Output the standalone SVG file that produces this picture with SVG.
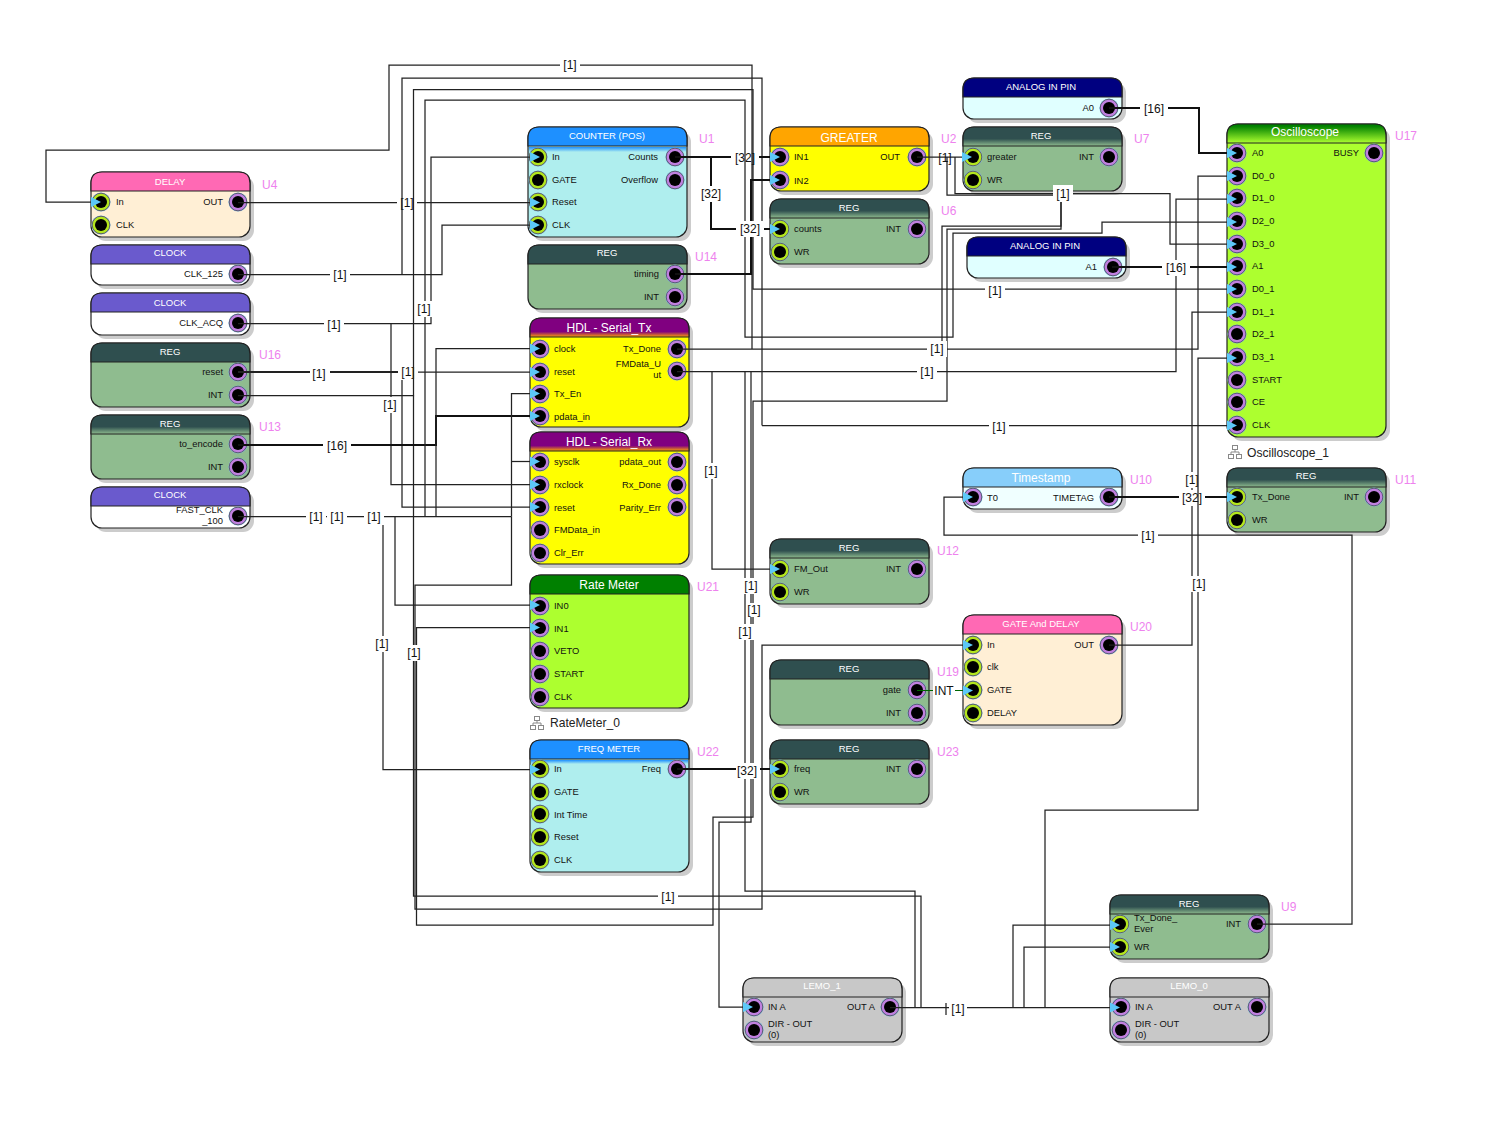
<svg xmlns="http://www.w3.org/2000/svg" width="1487" height="1122" viewBox="0 0 1487 1122">
<style>
text{font-family:"Liberation Sans",Arial,sans-serif}
.s{fill:#ccc;stroke:none}
.n,.hd{stroke:#222;stroke-width:1.2}
.p{font-size:9.4px;fill:#111}
.e{font-size:9.4px;fill:#111;text-anchor:end}
.h{font-size:9.5px;fill:#fff;text-anchor:middle}
.H{font-size:12px;fill:#fff;text-anchor:middle}
.u{font-size:12px;fill:#ee82ee}
.w{fill:none;stroke:#222;stroke-width:1.25}
.t{fill:none;stroke:#111;stroke-width:2}
.g{fill:none;stroke:#060;stroke-width:1.2}
.a{marker-end:url(#a)}
.l rect{fill:#fff}
.l text{font-size:12px;fill:#111;text-anchor:middle}
.c{font-size:12.1px;fill:#222}
.i{fill:#fff;stroke:#888;stroke-width:1}
</style>
<defs>
<linearGradient id="gr" x1="0" y1="0" x2="0" y2="1"><stop offset="0.62" stop-color="#2f4f4f"/><stop offset="1" stop-color="#8fbc8f"/></linearGradient>
<linearGradient id="gh" x1="0" y1="0" x2="0" y2="1"><stop offset="0.72" stop-color="#800080"/><stop offset="1" stop-color="#ffa500"/></linearGradient>
<linearGradient id="go" x1="0" y1="0" x2="0" y2="1"><stop offset="0.1" stop-color="#008000"/><stop offset="1" stop-color="#adff2f"/></linearGradient>
<linearGradient id="gc" x1="0" y1="0" x2="0" y2="1"><stop offset="0" stop-color="#1e90ff"/><stop offset="1" stop-color="#afeeee"/></linearGradient>
<path id="h" class="hd" d="M0 19V11Q0 0 11 0H148Q159 0 159 11V19Z"/>
<g id="pg"><circle r="9.6" fill="#7fb8e0"/><circle r="8.8" fill="#b4e61e" stroke="#556" stroke-width=".9"/><circle r="6" fill="#000"/></g>
<g id="pp"><circle r="9.6" fill="#7fb8e0"/><circle r="8.8" fill="#c080e0" stroke="#556" stroke-width=".9"/><circle r="6" fill="#000"/></g>
<marker id="a" markerUnits="userSpaceOnUse" markerWidth="12" markerHeight="12" refX="0" refY="6" orient="auto"><path d="M0 1L10 6L0 11Z" fill="#5cc8f8"/></marker>
<g id="net"><path d="M7 4V7M3 10V7H11V10" fill="none" stroke="#888"/><rect class="i" x="4.5" y="0.5" width="5" height="4"/><rect class="i" x="0.5" y="9.5" width="5" height="4"/><rect class="i" x="8.5" y="9.5" width="5" height="4"/></g>
</defs>
<rect width="1487" height="1122" fill="#fff"/>

<g id="U4"><rect class="s" x="95" y="176" width="159" height="65" rx="11"/><rect class="n" x="91" y="172" width="159" height="65" rx="11" fill="#ffefd5"/><use href="#h" x="91" y="172" fill="#ff69b4"/><text class="h" x="170" y="185">DELAY</text><use href="#pg" x="101" y="202"/><use href="#pg" x="101" y="225"/><use href="#pp" x="238" y="202"/><text class="p" x="116" y="205">In</text><text class="p" x="116" y="228">CLK</text><text class="e" x="223" y="205">OUT</text><text class="u" x="262" y="189">U4</text></g>
<g id="CLK_125"><rect class="s" x="95" y="249" width="159" height="40" rx="11"/><rect class="n" x="91" y="245" width="159" height="40" rx="11" fill="#fff"/><use href="#h" x="91" y="245" fill="#6a5acd"/><text class="h" x="170" y="256">CLOCK</text><use href="#pp" x="238" y="274"/><text class="e" x="223" y="277">CLK_125</text></g>
<g id="CLK_ACQ"><rect class="s" x="95" y="297" width="159" height="42" rx="11"/><rect class="n" x="91" y="293" width="159" height="42" rx="11" fill="#fff"/><use href="#h" x="91" y="293" fill="#6a5acd"/><text class="h" x="170" y="306">CLOCK</text><use href="#pp" x="238" y="323"/><text class="e" x="223" y="326">CLK_ACQ</text></g>
<g id="U16"><rect class="s" x="95" y="347" width="159" height="64" rx="11"/><rect class="n" x="91" y="343" width="159" height="64" rx="11" fill="#8fbc8f"/><use href="#h" x="91" y="343" fill="#2f4f4f"/><text class="h" x="170" y="355">REG</text><use href="#pp" x="238" y="372"/><use href="#pp" x="238" y="395"/><text class="e" x="223" y="375">reset</text><text class="e" x="223" y="398">INT</text><text class="u" x="259" y="359">U16</text></g>
<g id="U13"><rect class="s" x="95" y="419" width="159" height="64" rx="11"/><rect class="n" x="91" y="415" width="159" height="64" rx="11" fill="#8fbc8f"/><use href="#h" x="91" y="415" fill="url(#gr)"/><text class="h" x="170" y="427">REG</text><use href="#pp" x="238" y="444"/><use href="#pp" x="238" y="467"/><text class="e" x="223" y="447">to_encode</text><text class="e" x="223" y="470">INT</text><text class="u" x="259" y="431">U13</text></g>
<g id="FAST_CLK"><rect class="s" x="95" y="491" width="159" height="41" rx="11"/><rect class="n" x="91" y="487" width="159" height="41" rx="11" fill="#fff"/><use href="#h" x="91" y="487" fill="#6a5acd"/><text class="h" x="170" y="498">CLOCK</text><use href="#pp" x="238" y="516"/><text class="e" x="223" y="513">FAST_CLK</text><text class="e" x="223" y="524">_100</text></g>

<g id="U1"><rect class="s" x="532" y="131" width="159" height="110" rx="11"/><rect class="n" x="528" y="127" width="159" height="110" rx="11" fill="#afeeee"/><rect x="529" y="147" width="157" height="5" fill="url(#gc)"/><use href="#h" x="528" y="127" fill="#1e90ff"/><text class="h" x="607" y="139">COUNTER (POS)</text><use href="#pg" x="538" y="157"/><use href="#pg" x="538" y="180"/><use href="#pg" x="538" y="202"/><use href="#pg" x="538" y="225"/><use href="#pp" x="675" y="157"/><use href="#pp" x="675" y="180"/><text class="p" x="552" y="160">In</text><text class="p" x="552" y="183">GATE</text><text class="p" x="552" y="205">Reset</text><text class="p" x="552" y="228">CLK</text><text class="e" x="658" y="160">Counts</text><text class="e" x="658" y="183">Overflow</text><text class="u" x="699" y="143">U1</text></g>
<g id="U14"><rect class="s" x="532" y="249" width="159" height="64" rx="11"/><rect class="n" x="528" y="245" width="159" height="64" rx="11" fill="#8fbc8f"/><use href="#h" x="528" y="245" fill="#2f4f4f"/><text class="h" x="607" y="256">REG</text><use href="#pp" x="675" y="274"/><use href="#pp" x="675" y="297"/><text class="e" x="659" y="277">timing</text><text class="e" x="659" y="300">INT</text><text class="u" x="695" y="261">U14</text></g>
<g id="U15"><rect class="s" x="534" y="322" width="159" height="109" rx="11"/><rect class="n" x="530" y="318" width="159" height="109" rx="11" fill="#ff0"/><use href="#h" x="530" y="318" fill="url(#gh)"/><text class="H" x="609" y="332">HDL - Serial_Tx</text><use href="#pp" x="540" y="349"/><use href="#pp" x="540" y="372"/><use href="#pp" x="540" y="394"/><use href="#pp" x="540" y="416"/><use href="#pp" x="677" y="349"/><use href="#pp" x="677" y="371"/><text class="p" x="554" y="352">clock</text><text class="p" x="554" y="375">reset</text><text class="p" x="554" y="397">Tx_En</text><text class="p" x="554" y="420">pdata_in</text><text class="e" x="661" y="352">Tx_Done</text><text class="e" x="661" y="367">FMData_U</text><text class="e" x="661" y="378">ut</text></g>
<g id="U18"><rect class="s" x="534" y="436" width="159" height="132" rx="11"/><rect class="n" x="530" y="432" width="159" height="132" rx="11" fill="#ff0"/><use href="#h" x="530" y="432" fill="url(#gh)"/><text class="H" x="609" y="446">HDL - Serial_Rx</text><use href="#pp" x="540" y="462"/><use href="#pp" x="540" y="485"/><use href="#pp" x="540" y="507"/><use href="#pp" x="540" y="530"/><use href="#pp" x="540" y="553"/><use href="#pp" x="677" y="462"/><use href="#pp" x="677" y="485"/><use href="#pp" x="677" y="507"/><text class="p" x="554" y="465">sysclk</text><text class="p" x="554" y="488">rxclock</text><text class="p" x="554" y="511">reset</text><text class="p" x="554" y="533">FMData_in</text><text class="p" x="554" y="556">Clr_Err</text><text class="e" x="661" y="465">pdata_out</text><text class="e" x="661" y="488">Rx_Done</text><text class="e" x="661" y="511">Parity_Err</text></g>
<g id="U21"><rect class="s" x="534" y="579" width="159" height="133" rx="11"/><rect class="n" x="530" y="575" width="159" height="133" rx="11" fill="#adff2f"/><use href="#h" x="530" y="575" fill="#008000"/><text class="H" x="609" y="589">Rate Meter</text><use href="#pp" x="540" y="606"/><use href="#pp" x="540" y="628"/><use href="#pp" x="540" y="651"/><use href="#pp" x="540" y="674"/><use href="#pp" x="540" y="697"/><text class="p" x="554" y="609">IN0</text><text class="p" x="554" y="632">IN1</text><text class="p" x="554" y="654">VETO</text><text class="p" x="554" y="677">START</text><text class="p" x="554" y="700">CLK</text><text class="u" x="697" y="591">U21</text><use href="#net" x="530" y="716"/><text class="c" x="550" y="727">RateMeter_0</text></g>
<g id="U22"><rect class="s" x="534" y="744" width="159" height="132" rx="11"/><rect class="n" x="530" y="740" width="159" height="132" rx="11" fill="#afeeee"/><rect x="531" y="760" width="157" height="4" fill="url(#gc)"/><use href="#h" x="530" y="740" fill="#1e90ff"/><text class="h" x="609" y="752">FREQ METER</text><use href="#pg" x="540" y="769"/><use href="#pg" x="540" y="792"/><use href="#pg" x="540" y="814"/><use href="#pg" x="540" y="837"/><use href="#pg" x="540" y="860"/><use href="#pp" x="677" y="769"/><text class="p" x="554" y="772">In</text><text class="p" x="554" y="795">GATE</text><text class="p" x="554" y="818">Int Time</text><text class="p" x="554" y="840">Reset</text><text class="p" x="554" y="863">CLK</text><text class="e" x="661" y="772">Freq</text><text class="u" x="697" y="756">U22</text></g>

<g id="U2"><rect class="s" x="774" y="131" width="159" height="64" rx="11"/><rect class="n" x="770" y="127" width="159" height="64" rx="11" fill="#ff0"/><use href="#h" x="770" y="127" fill="#ffa500"/><text class="H" x="849" y="142">GREATER</text><use href="#pp" x="780" y="157"/><use href="#pp" x="780" y="180"/><use href="#pp" x="917" y="157"/><text class="p" x="794" y="160">IN1</text><text class="p" x="794" y="184">IN2</text><text class="e" x="900" y="160">OUT</text><text class="u" x="941" y="143">U2</text></g>
<g id="U6"><rect class="s" x="774" y="203" width="159" height="65" rx="11"/><rect class="n" x="770" y="199" width="159" height="65" rx="11" fill="#8fbc8f"/><use href="#h" x="770" y="199" fill="url(#gr)"/><text class="h" x="849" y="211">REG</text><use href="#pg" x="780" y="229"/><use href="#pg" x="780" y="252"/><use href="#pp" x="917" y="229"/><text class="p" x="794" y="232">counts</text><text class="p" x="794" y="255">WR</text><text class="e" x="901" y="232">INT</text><text class="u" x="941" y="215">U6</text></g>
<g id="U12"><rect class="s" x="774" y="543" width="159" height="65" rx="11"/><rect class="n" x="770" y="539" width="159" height="65" rx="11" fill="#8fbc8f"/><use href="#h" x="770" y="539" fill="url(#gr)"/><text class="h" x="849" y="551">REG</text><use href="#pg" x="780" y="569"/><use href="#pg" x="780" y="592"/><use href="#pp" x="917" y="569"/><text class="p" x="794" y="572">FM_Out</text><text class="p" x="794" y="595">WR</text><text class="e" x="901" y="572">INT</text><text class="u" x="937" y="555">U12</text></g>
<g id="U19"><rect class="s" x="774" y="664" width="159" height="65" rx="11"/><rect class="n" x="770" y="660" width="159" height="65" rx="11" fill="#8fbc8f"/><use href="#h" x="770" y="660" fill="#2f4f4f"/><text class="h" x="849" y="672">REG</text><use href="#pp" x="917" y="690"/><use href="#pp" x="917" y="713"/><text class="e" x="901" y="693">gate</text><text class="e" x="901" y="716">INT</text><text class="u" x="937" y="676">U19</text></g>
<g id="U23"><rect class="s" x="774" y="744" width="159" height="64" rx="11"/><rect class="n" x="770" y="740" width="159" height="64" rx="11" fill="#8fbc8f"/><use href="#h" x="770" y="740" fill="#2f4f4f"/><text class="h" x="849" y="752">REG</text><use href="#pg" x="780" y="769"/><use href="#pg" x="780" y="792"/><use href="#pp" x="917" y="769"/><text class="p" x="794" y="772">freq</text><text class="p" x="794" y="795">WR</text><text class="e" x="901" y="772">INT</text><text class="u" x="937" y="756">U23</text></g>

<g id="A0"><rect class="s" x="967" y="82" width="159" height="41" rx="11"/><rect class="n" x="963" y="78" width="159" height="41" rx="11" fill="#e0ffff"/><use href="#h" x="963" y="78" fill="#000080"/><text class="h" x="1041" y="90">ANALOG IN PIN</text><use href="#pp" x="1109" y="108"/><text class="e" x="1094" y="111">A0</text></g>
<g id="U7"><rect class="s" x="967" y="131" width="159" height="64" rx="11"/><rect class="n" x="963" y="127" width="159" height="64" rx="11" fill="#8fbc8f"/><use href="#h" x="963" y="127" fill="url(#gr)"/><text class="h" x="1041" y="139">REG</text><use href="#pg" x="973" y="157"/><use href="#pg" x="973" y="180"/><use href="#pp" x="1109" y="157"/><text class="p" x="987" y="160">greater</text><text class="p" x="987" y="183">WR</text><text class="e" x="1094" y="160">INT</text><text class="u" x="1134" y="143">U7</text></g>
<g id="A1"><rect class="s" x="971" y="241" width="159" height="41" rx="11"/><rect class="n" x="967" y="237" width="159" height="41" rx="11" fill="#e0ffff"/><use href="#h" x="967" y="237" fill="#000080"/><text class="h" x="1045" y="249">ANALOG IN PIN</text><use href="#pp" x="1113" y="267"/><text class="e" x="1097" y="270">A1</text></g>
<g id="U10"><rect class="s" x="967" y="472" width="159" height="41" rx="11"/><rect class="n" x="963" y="468" width="159" height="41" rx="11" fill="#f0ffff"/><use href="#h" x="963" y="468" fill="#87cefa"/><text class="H" x="1041" y="482">Timestamp</text><use href="#pp" x="973" y="497"/><use href="#pp" x="1109" y="497"/><text class="p" x="987" y="501">T0</text><text class="e" x="1094" y="501">TIMETAG</text><text class="u" x="1130" y="484">U10</text></g>
<g id="U20"><rect class="s" x="967" y="619" width="159" height="110" rx="11"/><rect class="n" x="963" y="615" width="159" height="110" rx="11" fill="#ffefd5"/><use href="#h" x="963" y="615" fill="#ff69b4"/><text class="h" x="1041" y="627">GATE And DELAY</text><use href="#pg" x="973" y="645"/><use href="#pg" x="973" y="667"/><use href="#pg" x="973" y="690"/><use href="#pg" x="973" y="713"/><use href="#pp" x="1109" y="645"/><text class="p" x="987" y="648">In</text><text class="p" x="987" y="670">clk</text><text class="p" x="987" y="693">GATE</text><text class="p" x="987" y="716">DELAY</text><text class="e" x="1094" y="648">OUT</text><text class="u" x="1130" y="631">U20</text></g>

<g id="U17"><rect class="s" x="1231" y="128" width="159" height="313" rx="11"/><rect class="n" x="1227" y="124" width="159" height="313" rx="11" fill="#adff2f"/><use href="#h" x="1227" y="124" fill="url(#go)"/><text class="H" x="1305" y="136">Oscilloscope</text><use href="#pp" x="1237" y="153"/><use href="#pp" x="1237" y="176"/><use href="#pp" x="1237" y="198"/><use href="#pp" x="1237" y="221"/><use href="#pp" x="1237" y="244"/><use href="#pp" x="1237" y="266"/><use href="#pp" x="1237" y="289"/><use href="#pp" x="1237" y="312"/><use href="#pp" x="1237" y="334"/><use href="#pp" x="1237" y="357"/><use href="#pp" x="1237" y="380"/><use href="#pp" x="1237" y="402"/><use href="#pp" x="1237" y="425"/><use href="#pp" x="1374" y="153"/><text class="p" x="1252" y="156">A0</text><text class="p" x="1252" y="179">D0_0</text><text class="p" x="1252" y="201">D1_0</text><text class="p" x="1252" y="224">D2_0</text><text class="p" x="1252" y="247">D3_0</text><text class="p" x="1252" y="269">A1</text><text class="p" x="1252" y="292">D0_1</text><text class="p" x="1252" y="315">D1_1</text><text class="p" x="1252" y="337">D2_1</text><text class="p" x="1252" y="360">D3_1</text><text class="p" x="1252" y="383">START</text><text class="p" x="1252" y="405">CE</text><text class="p" x="1252" y="428">CLK</text><text class="e" x="1359" y="156">BUSY</text><text class="u" x="1395" y="140">U17</text><use href="#net" x="1228" y="445"/><text class="c" x="1247" y="457">Oscilloscope_1</text></g>
<g id="U11"><rect class="s" x="1231" y="472" width="159" height="64" rx="11"/><rect class="n" x="1227" y="468" width="159" height="64" rx="11" fill="#8fbc8f"/><use href="#h" x="1227" y="468" fill="url(#gr)"/><text class="h" x="1306" y="479">REG</text><use href="#pg" x="1237" y="497"/><use href="#pg" x="1237" y="520"/><use href="#pp" x="1374" y="497"/><text class="p" x="1252" y="500">Tx_Done</text><text class="p" x="1252" y="523">WR</text><text class="e" x="1359" y="500">INT</text><text class="u" x="1395" y="484">U11</text></g>
<g id="U9"><rect class="s" x="1114" y="899" width="159" height="64" rx="11"/><rect class="n" x="1110" y="895" width="159" height="64" rx="11" fill="#8fbc8f"/><use href="#h" x="1110" y="895" fill="url(#gr)"/><text class="h" x="1189" y="907">REG</text><use href="#pg" x="1120" y="924"/><use href="#pg" x="1120" y="947"/><use href="#pp" x="1257" y="924"/><text class="p" x="1134" y="921">Tx_Done_</text><text class="p" x="1134" y="932">Ever</text><text class="p" x="1134" y="950">WR</text><text class="e" x="1241" y="927">INT</text><text class="u" x="1281" y="911">U9</text></g>
<g id="LEMO_1"><rect class="s" x="747" y="982" width="159" height="64" rx="11"/><rect class="n" x="743" y="978" width="159" height="64" rx="11" fill="#c8c8c8"/><use href="#h" x="743" y="978" fill="#c8c8c8"/><text class="h" x="822" y="989">LEMO_1</text><use href="#pp" x="754" y="1007"/><use href="#pp" x="754" y="1030"/><use href="#pp" x="890" y="1007"/><text class="p" x="768" y="1010">IN A</text><text class="p" x="768" y="1027">DIR - OUT</text><text class="p" x="768" y="1038">(0)</text><text class="e" x="875" y="1010">OUT A</text></g>
<g id="LEMO_0"><rect class="s" x="1114" y="982" width="159" height="64" rx="11"/><rect class="n" x="1110" y="978" width="159" height="64" rx="11" fill="#c8c8c8"/><use href="#h" x="1110" y="978" fill="#c8c8c8"/><text class="h" x="1189" y="989">LEMO_0</text><use href="#pp" x="1121" y="1007"/><use href="#pp" x="1121" y="1030"/><use href="#pp" x="1257" y="1007"/><text class="p" x="1135" y="1010">IN A</text><text class="p" x="1135" y="1027">DIR - OUT</text><text class="p" x="1135" y="1038">(0)</text><text class="e" x="1241" y="1010">OUT A</text></g>

<g id="connectors">
<path class="w a" d="M238 202.5H530"/>
<g class="l"><rect x="397" y="195" width="20" height="16"/><text x="407" y="207">[1]</text></g>
<path class="w a" d="M238 274.5H442V225H530"/>
<path class="w" d="M402 274.5V78H762V425.5"/>
<path class="w a" d="M762 425.5H1227"/>
<g class="l"><rect x="330" y="267" width="20" height="16"/><text x="340" y="279">[1]</text><rect x="989" y="418" width="20" height="16"/><text x="999" y="431">[1]</text></g>
<path class="w a" d="M238 323.5H431V157H530"/>
<path class="w a" d="M391 323.5V484.5H530"/>
<g class="l"><rect x="324" y="317" width="20" height="16"/><text x="334" y="329">[1]</text><rect x="381" y="397" width="20" height="16"/><text x="390" y="409">[1]</text></g>
<path class="w a" d="M238 372H530"/>
<path class="w" style="stroke-width:2" d="M238 372H400"/>
<path class="w a" d="M402 372V507H530"/>
<g class="l"><rect x="310" y="366" width="20" height="16"/><text x="319" y="378">[1]</text><rect x="398" y="364" width="20" height="16"/><text x="408" y="376">[1]</text></g>
<path class="w a" d="M238 395.5H413.500V89.500H753V289H1227"/>
<path class="w" d="M413.500 395.500V896H921V1007"/>
<g class="l"><rect x="985" y="283" width="20" height="16"/><text x="995" y="295">[1]</text><rect x="658" y="889" width="20" height="16"/><text x="668" y="901">[1]</text></g>
<path class="t a" d="M238 445H436V416H530"/>
<g class="l"><rect x="323" y="438" width="28" height="16"/><text x="337" y="450">[16]</text></g>
<path class="w" d="M238 516.500H511.500"/>
<path class="w a" d="M425 516.500V100H745V337H953V233H1102V222H1227"/>
<path class="w a" d="M436 516.500V348.500H530"/>
<path class="w a" d="M395 516.500V605H530"/>
<path class="w a" d="M383 516.500V769.500H530"/>
<path class="w a" d="M511.500 516.500V393.500H530"/>
<path class="w a" d="M511.500 461.500H530"/>
<path class="w a" d="M511.500 516.500V585H415V909H762V645H963"/>
<g class="l"><rect x="306" y="509" width="20" height="16"/><text x="316" y="521">[1]</text><rect x="327" y="509" width="20" height="16"/><text x="337" y="521">[1]</text><rect x="364" y="509" width="20" height="16"/><text x="374" y="521">[1]</text><rect x="415" y="301" width="20" height="16"/><text x="424" y="313">[1]</text><rect x="373" y="636" width="20" height="16"/><text x="382" y="648">[1]</text></g>
<path class="w a" d="M917 157H962"/>
<path class="w a" d="M955 157V193.500H1170V244H1227"/>
<path class="w a" d="M947 157V195H1061V229H947V401H753V817H713V925H416.500V627.500H530"/>
<path class="w" d="M1061 195V226H942V349"/>
<g class="l"><rect x="1053" y="185" width="20" height="17"/><text x="1063" y="198">[1]</text><rect x="404" y="645" width="20" height="16"/><text x="414" y="657">[1]</text></g>
<g class="l"><text x="945" y="162">[1]</text></g>
<path class="w a" d="M677 349H1198V176H1227"/>
<path class="w a" d="M752 349V65H389V150H46V202H91"/>
<g class="l"><rect x="927" y="341" width="20" height="16"/><text x="937" y="353">[1]</text><rect x="560" y="57" width="20" height="16"/><text x="570" y="69">[1]</text></g>
<path class="w a" d="M677 371.500H1176V199H1227"/>
<path class="w a" d="M712 371.500V569H770"/>
<path class="w" d="M745 371.500V891H915V1007"/>
<path class="w a" d="M751 371.500V822H719V1007H743"/>
<g class="l"><rect x="917" y="364" width="20" height="16"/><text x="927" y="376">[1]</text><rect x="702" y="463" width="20" height="16"/><text x="711" y="475">[1]</text><rect x="736" y="624" width="19" height="16"/><text x="745" y="636">[1]</text><rect x="742" y="578" width="19" height="16"/><text x="751" y="590">[1]</text></g>
<g class="l"><rect x="748" y="603" width="12" height="14"/><text x="754" y="614">[1]</text></g>
<path class="t" d="M675 157H731"/>
<path class="t a" d="M759 157H770"/>
<path class="t a" d="M711 157V229H770"/>
<path class="t a" d="M675 274H751V180H770"/>
<g class="l"><rect x="697" y="186" width="28" height="16"/><text x="711" y="198">[32]</text><text x="745" y="162">[32]</text><rect x="736" y="221" width="28" height="16"/><text x="750" y="233">[32]</text></g>
<path class="t a" d="M1109 108H1199V153H1227"/>
<path class="t a" d="M1112 267H1227"/>
<g class="l"><rect x="1140" y="101" width="28" height="16"/><text x="1154" y="113">[16]</text><rect x="1162" y="260" width="28" height="16"/><text x="1176" y="272">[16]</text></g>
<path class="w a" d="M1109 645H1192V312H1227"/>
<g class="l"><rect x="1183" y="472" width="18" height="16"/><text x="1192" y="484">[1]</text></g>
<path class="t a" d="M1109 497H1227"/>
<g class="l"><rect x="1179" y="490" width="26" height="16"/><text x="1192" y="502">[32]</text></g>
<path class="w a" d="M1257 924H1352V535H944V497H963"/>
<g class="l"><rect x="1138" y="528" width="20" height="16"/><text x="1148" y="540">[1]</text></g>
<path class="g a" d="M917 690.500H963"/>
<g class="l"><rect x="933" y="683" width="22" height="16"/><text x="944" y="695" fill="#300">INT</text></g>
<path class="t a" d="M677 769H770"/>
<g class="l"><rect x="736" y="763" width="24" height="16"/><text x="747" y="775">[32]</text></g>
<path class="w a" d="M890 1007.500H1110"/>
<path class="w a" d="M1013 1007.500V925H1110"/>
<path class="w a" d="M1024 1007.500V947H1110"/>
<path class="w a" d="M1045 1007.500V810H1198V358H1227"/>
<path class="w" d="M946 1003V1015"/>
<g class="l"><rect x="949" y="1001" width="18" height="16"/><text x="958" y="1013">[1]</text><rect x="1189" y="576" width="20" height="16"/><text x="1199" y="588">[1]</text></g>
</g>
</svg>
